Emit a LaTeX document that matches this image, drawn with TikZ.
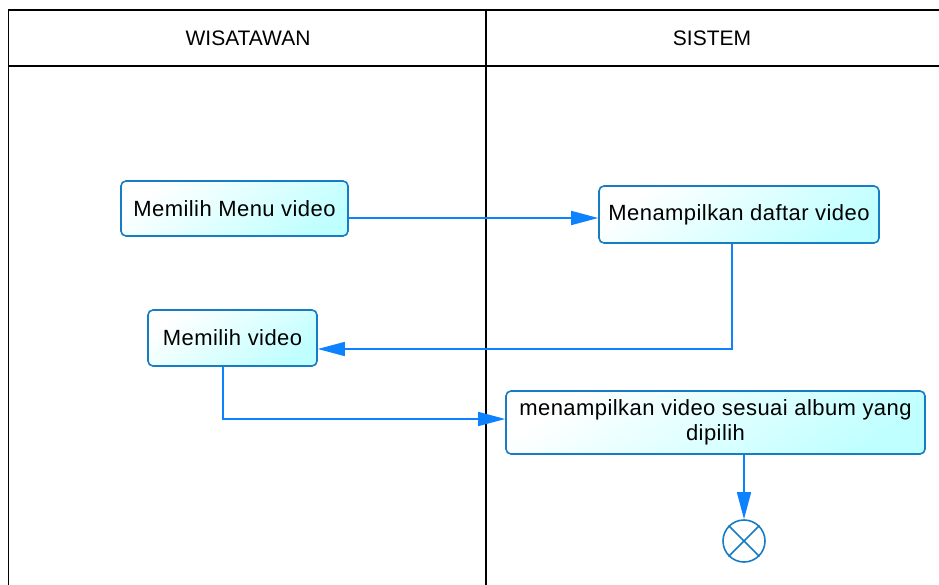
\documentclass[tikz,border=0pt]{standalone}
\usepackage{fontspec}
\setmainfont{Liberation Sans}
\newfontfamily\actfont[LetterSpace=2]{Liberation Sans}
\usepackage{tikz}
\usetikzlibrary{
  arrows.meta,
  calc,
  positioning,
  shapes}
\definecolor{actline}{RGB}{22,125,195}
\definecolor{actfill}{RGB}{192,255,255}
\definecolor{flowblue}{RGB}{12,130,255}

\begin{document}
\begin{tikzpicture}[x=1pt,y=-1pt,
    act/.style={draw=actline,line width=1.6pt,rounded corners=5pt,
      top color=white,bottom color=actfill,shading angle=35,
      font=\actfont\fontsize{22}{25}\selectfont,align=center,inner sep=0pt},
    flow/.style={draw=flowblue,line width=1.6pt,-{Triangle[length=27pt,width=14pt]}},
    lane/.style={draw=black,line width=1.6pt}]
            \useasboundingbox (0,0) rectangle (939,585);
            \clip (0,0) rectangle (939,585);
            % swimlanes
            \draw[lane] (8.5,10) rectangle (960,600);
            \draw[lane] (8.5,66)--(960,66);
            \draw[lane] (486,10)--(486,600);
            \node[font=\fontsize{21}{24}\selectfont] (wisatawan) at (248,38) {WISATAWAN};
            \node[font=\fontsize{21}{24}\selectfont] (sistem) at (712,38) {SISTEM};
            % activities
            \node[act,minimum width=227pt,minimum height=55pt] (menu) at (234.5,208.5) {Memilih Menu video};
            \node[act,minimum width=280pt,minimum height=57pt] (daftar) at (739,214.5) {Menampilkan daftar video};
            \node[act,minimum width=169pt,minimum height=56pt] (pilih) at (232.5,338) {Memilih video};
            \node[act,minimum width=419pt,minimum height=63pt] (tampil) at (715.5,422.5) {menampilkan video sesuai album yang\\dipilih};
            \node[circle,draw=actline,line width=1.6pt,minimum size=42pt,inner sep=0pt] (akhir) at (744,541) {};
            \draw[actline,line width=1.6pt] (akhir.45)--(akhir.225) (akhir.135)--(akhir.315);
            % flows
            \coordinate (k1) at (0,218);
            \coordinate (k2) at (732,349);
            \coordinate (k3) at (223,419);
            \draw[flow] (menu.east |- k1)--(daftar.west |- k1);
            \draw[flow] (daftar.south -| k2)--(k2)--(pilih.east |- k2);
            \draw[flow] (pilih.south -| k3)--(k3)--(tampil.west |- k3);
            \draw[flow] (tampil.south -| akhir)--(akhir.north);
        \end{tikzpicture}
\end{document}
